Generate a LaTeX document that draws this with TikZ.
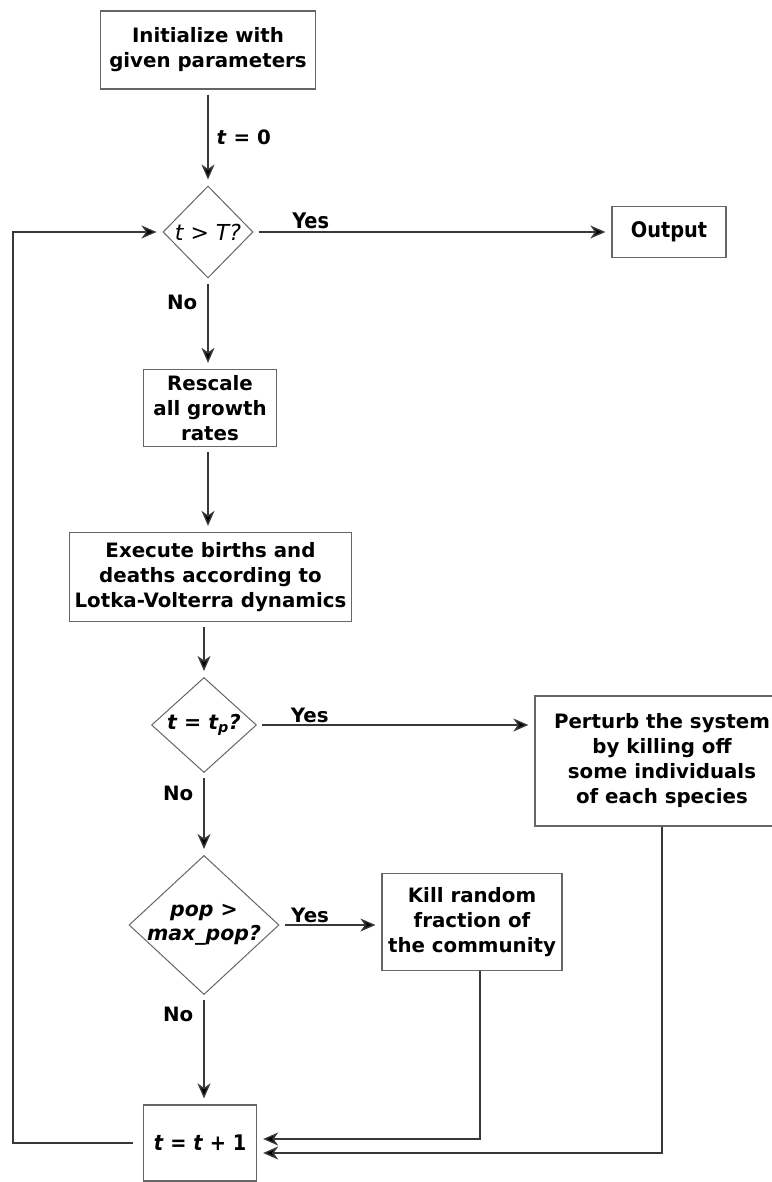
\documentclass[tikz,border=0pt]{standalone}
\usepackage{fontspec}
\setmainfont{DejaVu Sans}
\newfontfamily\condfont{DejaVu Sans Condensed}
\usetikzlibrary{arrows.meta,calc,shapes.geometric}
\newcommand{\bigtxt}{\fontsize{19.8}{25}\selectfont}
\newcommand{\hugetxt}{\fontsize{21.5}{25}\selectfont}
\tikzset{flow/.style={draw=black!78, line width=1.4pt, -{Stealth[length=15pt,width=13pt,inset=4.5pt,fill=black]},
    shorten <=5pt, shorten >=6pt},
  box/.style={draw=black!60, line width=1.3pt, align=center, inner xsep=6pt, font=\bfseries\bigtxt},
  decision/.style={diamond, draw=black!60, line width=1pt, align=center, inner sep=0pt,
    font=\bfseries\itshape\fontsize{20.5}{24}\selectfont},
  lbl/.style={font=\bfseries\bigtxt, inner sep=2pt}}

\begin{document}
\begin{tikzpicture}[x=1pt, y=-1pt]
  \useasboundingbox (0,0) rectangle (771,1182);
  % main column
  \node[box, minimum width=215pt, minimum height=78pt] (init) at (208,50) {Initialize with\\given parameters};
  \node[decision, minimum width=90pt, minimum height=92pt, font=\itshape\fontsize{22}{24}\selectfont] (tbig) at (208,232) {t > T?};
  \node[box, minimum width=114pt, minimum height=51pt, font=\condfont\bfseries\hugetxt] (out) at (669,232) {Output};
  \node[box, minimum width=133pt, minimum height=77pt] (resc) at (210,408) {Rescale\\all growth\\rates};
  \node[box, minimum height=89pt, inner xsep=5pt, anchor=east] (exec) at (352,577) {Execute births and\\deaths according to\\Lotka-Volterra dynamics};
  \node[decision, minimum width=105pt, minimum height=92pt] (tp) at (204,725) {t = t\textsubscript{p}?};
  \node[box, minimum width=254pt, minimum height=130pt] (pert) at (662,761) {Perturb the system\\by killing off\\some individuals\\of each species};
  \node[decision, minimum width=150pt, minimum height=124pt, inner sep=-4pt] (pop) at (204,925) {pop >\\max\_pop?};
  \node[box, minimum width=178pt, minimum height=97pt] (kill) at (472,922) {Kill random\\fraction of\\the community};
  \node[box, minimum width=113pt, minimum height=76pt, font=\condfont\bfseries\hugetxt] (tinc) at (200,1143) {\textit{t} = \textit{t} + 1};
  \coordinate (corner) at (13,1143);
  % connectors
  \draw[flow] (init) -- node[lbl, right=6pt] (tzero) {\textit{t} = 0} (tbig);
  \draw[flow] (tbig) -- node[lbl, above, pos=0.16, font=\condfont\bfseries\hugetxt] (yes1) {Yes} (out);
  \draw[flow] (tbig.south) -- node[lbl, left=8pt, pos=0.27] (no1) {No} (tbig.south |- resc.north);
  \draw[flow] (resc.south -| tbig.south) -- (tbig.south |- exec.north);
  \draw[flow] (tp.north |- exec.south) -- (tp.north);
  \draw[flow] (tp.east) -- node[lbl, above, pos=0.19] (yes2) {Yes} (tp.east -| pert.west);
  \draw[flow] (tp.south) -- node[lbl, left=8pt, pos=0.25] (no2) {No} (pop.north);
  \draw[flow] (pop.east) -- node[lbl, above, pos=0.3] (yes3) {Yes} (pop.east -| kill.west);
  \draw[flow] (pop.south) -- node[lbl, left=8pt, pos=0.18] (no3) {No} (pop.south |- tinc.north);
  % feedback into t = t + 1
  \draw[flow, shorten <=0pt] ($(kill.south)+(8,0)$) |- ($(tinc.east)+(0,-4)$);
  \draw[flow, shorten <=0pt] (pert.south) |- ($(tinc.east)+(0,10)$);
  \draw[flow, shorten <=10pt] (tinc.west) -- (corner) |- (tbig.west);
\end{tikzpicture}
\end{document}
